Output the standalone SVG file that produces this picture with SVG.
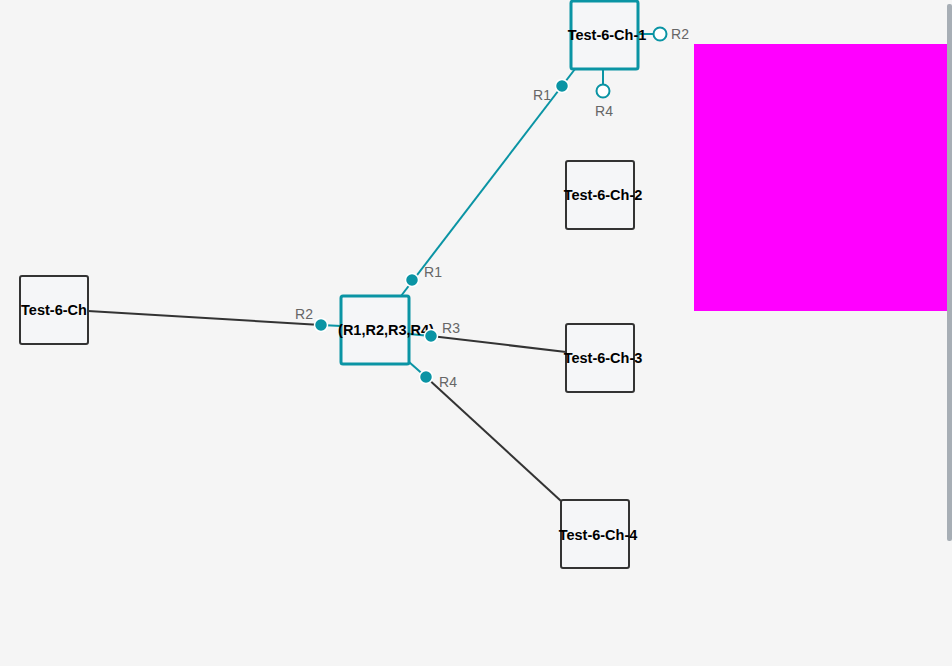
<svg xmlns="http://www.w3.org/2000/svg" width="952" height="666" viewBox="0 0 952 666">
<style>
.node rect{fill:#f5f6f8;stroke:#333;stroke-width:2}
.node.sel rect{stroke:#0a94a4;stroke-width:3}
.node text{font-family:"Liberation Sans",Arial,sans-serif;font-size:14.5px;font-weight:bold;fill:#000;text-anchor:middle;dominant-baseline:central}
.edge{fill:none;stroke:#333;stroke-width:2}
.tedge{fill:none;stroke:#0a94a4;stroke-width:2}
.dot{fill:#0a94a4;stroke:#fff;stroke-width:1.5}
.hollow{fill:#fff;stroke:#0a94a4;stroke-width:2}
.lbl{font-family:"Liberation Sans",Arial,sans-serif;font-size:14px;fill:#666;text-anchor:middle;dominant-baseline:central}
</style>
<rect width="952" height="666" fill="#f5f5f5"/>
<g id="connectors">
<line class="edge" x1="88" y1="311" x2="321" y2="325"/>
<line class="tedge" x1="321" y1="325" x2="341" y2="326"/>
<line class="tedge" x1="401" y1="296" x2="575" y2="69"/>
<line class="tedge" x1="409" y1="334" x2="431" y2="336"/>
<line class="edge" x1="431" y1="336" x2="566" y2="352"/>
<line class="tedge" x1="409" y1="362" x2="426" y2="377"/>
<line class="edge" x1="426" y1="377" x2="561" y2="501"/>
<line class="tedge" x1="639" y1="34" x2="660" y2="34"/>
<line class="tedge" x1="603" y1="69" x2="603" y2="91"/>
</g>
<g id="node-center" class="node sel">
<rect x="341" y="296" width="68" height="68" rx="2"/>
<text x="386" y="330">(R1,R2,R3,R4)</text>
</g>
<g id="node-ch" class="node">
<rect x="20" y="276" width="68" height="68" rx="2"/>
<text x="54" y="310">Test-6-Ch</text>
</g>
<g id="node-ch1" class="node sel">
<rect x="571" y="1" width="67" height="68" rx="2"/>
<text x="607" y="35">Test-6-Ch-1</text>
</g>
<g id="node-ch2" class="node">
<rect x="566" y="161" width="68" height="68" rx="2"/>
<text x="603" y="195">Test-6-Ch-2</text>
</g>
<g id="node-ch3" class="node">
<rect x="566" y="324" width="68" height="68" rx="2"/>
<text x="603" y="358">Test-6-Ch-3</text>
</g>
<g id="node-ch4" class="node">
<rect x="561" y="500" width="68" height="68" rx="2"/>
<text x="598" y="535">Test-6-Ch-4</text>
</g>
<g id="ends">
<circle class="dot" cx="321" cy="325" r="6.5"/>
<circle class="dot" cx="412" cy="280" r="6.5"/>
<circle class="dot" cx="562" cy="86" r="6.5"/>
<circle class="dot" cx="431" cy="336" r="6.5"/>
<circle class="dot" cx="426" cy="377" r="6.5"/>
<circle class="hollow" cx="660" cy="34" r="6.5"/>
<circle class="hollow" cx="603" cy="91" r="6.5"/>
<text class="lbl" x="304" y="314">R2</text>
<text class="lbl" x="433" y="272">R1</text>
<text class="lbl" x="542" y="95">R1</text>
<text class="lbl" x="451" y="328">R3</text>
<text class="lbl" x="448" y="382">R4</text>
<text class="lbl" x="680" y="34">R2</text>
<text class="lbl" x="604" y="111">R4</text>
</g>
<rect x="694" y="44" width="258" height="267" fill="#ff00ff"/>
<rect x="947" y="4" width="5" height="537" rx="2" fill="#a7aeb5"/>
</svg>
